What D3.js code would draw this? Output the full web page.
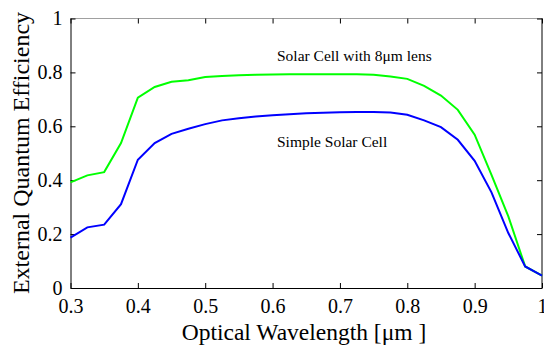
<!DOCTYPE html>
<html>
<head>
<meta charset="utf-8">
<script src="https://cdn.jsdelivr.net/npm/d3@7"></script>
<style>
  body { margin: 0; background: #fff; }
</style>
</head>
<body>
<div id="chart"></div>
<script>
// wavelength in um
var wavelength = [0.3, 0.325, 0.35, 0.375, 0.4, 0.425, 0.45, 0.475, 0.5, 0.525,
                  0.55, 0.575, 0.6, 0.625, 0.65, 0.675, 0.7, 0.725, 0.75, 0.775,
                  0.8, 0.825, 0.85, 0.875, 0.9, 0.925, 0.95, 0.975, 1.0];

var eqe_lens = [0.392, 0.418, 0.430, 0.538, 0.706, 0.746, 0.765, 0.771, 0.783, 0.787,
                0.789, 0.791, 0.792, 0.793, 0.793, 0.793, 0.793, 0.793, 0.791, 0.785,
                0.776, 0.750, 0.714, 0.661, 0.569, 0.420, 0.266, 0.080, 0.046];

var eqe_simple = [0.187, 0.225, 0.235, 0.311, 0.476, 0.538, 0.572, 0.591, 0.608, 0.622,
                  0.630, 0.636, 0.641, 0.645, 0.648, 0.650, 0.652, 0.653, 0.653, 0.651,
                  0.643, 0.622, 0.597, 0.550, 0.472, 0.355, 0.204, 0.080, 0.046];

var x_ticks = [0.3, 0.4, 0.5, 0.6, 0.7, 0.8, 0.9, 1];
var y_ticks = [0, 0.2, 0.4, 0.6, 0.8, 1];

var serif = '"Liberation Serif", "Times New Roman", "DejaVu Serif", serif';

var chart_width  = 544;
var chart_height = 347;

var svg = d3.select('#chart')
    .append('svg')
    .attr('width', chart_width)
    .attr('height', chart_height);

var x_scale = d3.scaleLinear().domain([0.3, 1]).range([70.5, 542]);
var y_scale = d3.scaleLinear().domain([0, 1]).range([288, 18.5]);

// box (top edge is drawn lighter, like the original)
svg.append('line')
    .attr('x1', 70.5).attr('x2', 542)
    .attr('y1', 18.5).attr('y2', 18.5)
    .attr('stroke', '#a0a0a0');
svg.append('line')
    .attr('x1', 542).attr('x2', 542)
    .attr('y1', 18.5).attr('y2', 288)
    .attr('stroke', '#000');

// axes with inward ticks
var x_axis = d3.axisBottom(x_scale).tickValues(x_ticks).tickSizeInner(-5).tickSizeOuter(0)
    .tickPadding(10).tickFormat(function(d){ return d === 1 ? '1' : d3.format('.1f')(d); });
var y_axis = d3.axisLeft(y_scale).tickValues(y_ticks).tickSizeInner(-5).tickSizeOuter(0)
    .tickPadding(8).tickFormat(function(d){ return (d === 0 || d === 1) ? String(d) : d3.format('.1f')(d); });

var gx = svg.append('g').attr('transform', 'translate(0,288)').call(x_axis);
var gy = svg.append('g').attr('transform', 'translate(70.5,0)').call(y_axis);

// ticks on top and right as well
svg.append('g').attr('transform', 'translate(0,18.5)')
    .call(d3.axisTop(x_scale).tickValues(x_ticks).tickSizeInner(-5).tickSizeOuter(0).tickFormat(''))
    .select('.domain').remove();
svg.append('g').attr('transform', 'translate(542,0)')
    .call(d3.axisRight(y_scale).tickValues(y_ticks).tickSizeInner(-5).tickSizeOuter(0).tickFormat(''))
    .select('.domain').remove();

svg.selectAll('.tick line').attr('stroke', '#000');
svg.selectAll('.domain').attr('stroke', '#000');
gx.attr('font-family', null);
gy.attr('font-family', null);
gx.selectAll('text').style('font-size', '20px').style('font-family', serif).attr('dy', '0.75em');
gy.selectAll('text').style('font-size', '20px').style('font-family', serif);

// lines
var eqe_line = d3.line()
    .x(function(d, i){ return x_scale(wavelength[i]); })
    .y(function(d){ return y_scale(d); });

svg.append('path')
    .datum(eqe_lens)
    .attr('d', eqe_line)
    .attr('fill', 'none')
    .attr('stroke', '#00ff00')
    .attr('stroke-width', 2);

svg.append('path')
    .datum(eqe_simple)
    .attr('d', eqe_line)
    .attr('fill', 'none')
    .attr('stroke', '#0000ff')
    .attr('stroke-width', 2);

// annotations
svg.append('text')
    .attr('x', 277).attr('y', 61)
    .style('font-family', serif)
    .style('font-size', '15.5px')
    .text('Solar Cell with 8\u03bcm lens');

svg.append('text')
    .attr('x', 277).attr('y', 147)
    .style('font-family', serif)
    .style('font-size', '15.5px')
    .text('Simple Solar Cell');

// axis titles
svg.append('text')
    .attr('x', 304).attr('y', 340)
    .attr('text-anchor', 'middle')
    .style('font-family', serif)
    .style('font-size', '23.5px')
    .text('Optical Wavelength [\u03bcm ]');

svg.append('text')
    .attr('transform', 'translate(29,153) rotate(-90)')
    .attr('text-anchor', 'middle')
    .style('font-family', serif)
    .style('font-size', '24px')
    .text('External Quantum Efficiency');
</script>
</body>
</html>
